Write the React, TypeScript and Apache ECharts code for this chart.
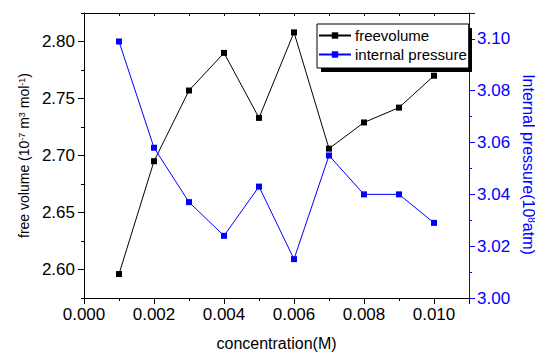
import React, { useEffect, useRef } from "react";
import * as echarts from "echarts";

const concentration = [0.001, 0.002, 0.003, 0.004, 0.005, 0.006, 0.007, 0.008, 0.009, 0.010];
const freeVolume = [2.596, 2.695, 2.757, 2.790, 2.733, 2.808, 2.706, 2.729, 2.742, 2.770];
const internalPressure = [3.099, 3.058, 3.037, 3.024, 3.043, 3.015, 3.055, 3.040, 3.040, 3.029];
const seriesNames = ["freevolume", "internal pressure"];

const FONT = "Liberation Sans, Arial, sans-serif";
const BLUE = "#0000ff";
const BLACK = "#000000";

const isMultiple = (v: number, step: number) => {
  const r = v / step;
  return Math.abs(r - Math.round(r)) < 1e-6;
};

export default function App() {
  const ref = useRef<HTMLDivElement>(null);
  useEffect(() => {
    if (!ref.current) return;
    const chart = echarts.init(ref.current, undefined, { renderer: "svg" });
    const gridMain = { left: 84, top: 13, width: 385, height: 285, containLabel: false, outerBoundsMode: "none" };
    // secondary grid spanning exactly 2.60 .. 2.80 of the left axis, for its major ticks
    const pxPerUnit = 285 / 0.25;
    const gridMajor = {
      left: 84,
      width: 385,
      top: 13 + 0.025 * pxPerUnit,
      height: 0.2 * pxPerUnit,
      containLabel: false,
      outerBoundsMode: "none",
    };
    const legendBox = { left: 317, top: 24, width: 151, height: 44 };
    const option: any = {
      animation: false,
      backgroundColor: "#ffffff",
      textStyle: { fontFamily: FONT },
      grid: [gridMain, gridMajor],
      graphic: [
        {
          type: "rect",
          z: 3,
          silent: true,
          shape: { x: legendBox.left + 4, y: legendBox.top + 4, width: legendBox.width, height: legendBox.height },
          style: { fill: BLACK },
        },
      ],
      legend: {
        data: seriesNames,
        orient: "vertical",
        left: legendBox.left,
        top: legendBox.top,
        z: 4,
        padding: [4, 2, 6, 1],
        itemGap: 4,
        itemWidth: 32,
        itemHeight: 8,
        backgroundColor: "#ffffff",
        borderColor: BLACK,
        borderWidth: 1,
        borderRadius: 0,
        textStyle: { fontFamily: FONT, fontSize: 15, color: BLACK, padding: [0, 0, 0, -1] },
      },
      xAxis: [
        {
          type: "value",
          gridIndex: 0,
          position: "bottom",
          min: 0,
          max: 0.011,
          interval: 0.001,
          name: "concentration(M)",
          nameLocation: "middle",
          nameGap: 37,
          nameTextStyle: { fontFamily: FONT, fontSize: 16, color: BLACK },
          axisLine: { onZero: false, lineStyle: { color: BLACK, width: 1 } },
          axisTick: { show: true, inside: false, length: 3, lineStyle: { color: BLACK } },
          axisLabel: {
            fontFamily: FONT,
            fontSize: 17,
            color: BLACK,
            margin: 8,
            showMaxLabel: false,
            formatter: (v: number) => (isMultiple(v, 0.002) && v < 0.0105 ? v.toFixed(3) : ""),
          },
          splitLine: { show: false },
        },
        {
          type: "value",
          gridIndex: 0,
          position: "bottom",
          min: 0,
          max: 0.011,
          interval: 0.002,
          axisLine: { show: false, onZero: false },
          axisTick: { show: true, inside: false, length: 6, lineStyle: { color: BLACK } },
          axisLabel: { show: false },
          splitLine: { show: false },
        },
        {
          type: "value",
          gridIndex: 0,
          position: "top",
          min: 0,
          max: 0.011,
          interval: 0.001,
          axisLine: { onZero: false, lineStyle: { color: BLACK, width: 1 } },
          axisTick: { show: true, inside: true, length: 3, lineStyle: { color: BLACK } },
          axisLabel: { show: false },
          splitLine: { show: false },
        },
        {
          type: "value",
          gridIndex: 1,
          show: false,
          min: 0,
          max: 0.011,
        },
      ],
      yAxis: [
        {
          type: "value",
          gridIndex: 0,
          position: "left",
          min: 2.575,
          max: 2.825,
          interval: 0.025,
          name: "free volume (10{sup|-7} m{sup|3} mol{sup|-1})",
          nameLocation: "middle",
          nameRotate: 90,
          nameGap: 50,
          nameTextStyle: {
            fontFamily: FONT,
            fontSize: 14,
            color: BLACK,
            rich: { sup: { fontFamily: FONT, fontSize: 9, color: BLACK, verticalAlign: "top", padding: [0, 0, 5, 0] } },
          },
          axisLine: { onZero: false, lineStyle: { color: BLACK, width: 1 } },
          axisTick: { show: true, inside: false, length: 3, lineStyle: { color: BLACK } },
          axisLabel: {
            fontFamily: FONT,
            fontSize: 17,
            color: BLACK,
            margin: 9,
            formatter: (v: number) => (isMultiple(v, 0.05) && v > 2.58 && v < 2.82 ? v.toFixed(2) : ""),
          },
          splitLine: { show: false },
        },
        {
          type: "value",
          gridIndex: 0,
          position: "right",
          min: 3.0,
          max: 3.11,
          interval: 0.01,
          name: "Internal pressure(10{sup|8}atm)",
          nameLocation: "middle",
          nameRotate: -90,
          nameGap: 49,
          nameTextStyle: {
            fontFamily: FONT,
            fontSize: 16,
            color: BLUE,
            padding: [0, 0, 0, 18],
            rich: { sup: { fontFamily: FONT, fontSize: 10, color: BLUE, verticalAlign: "top", padding: [0, 0, 5, 0] } },
          },
          axisLine: { onZero: false, lineStyle: { color: BLUE, width: 1 } },
          axisTick: { show: true, inside: false, length: 3, lineStyle: { color: BLUE } },
          axisLabel: {
            fontFamily: FONT,
            fontSize: 17,
            color: BLUE,
            margin: 8,
            hideOverlap: false,
            formatter: (v: number) => (isMultiple(v, 0.02) && v < 3.105 ? v.toFixed(2) : ""),
          },
          splitLine: { show: false },
        },
        {
          type: "value",
          gridIndex: 0,
          position: "right",
          min: 3.0,
          max: 3.11,
          interval: 0.02,
          axisLine: { show: false, onZero: false },
          axisTick: { show: true, inside: false, length: 6, lineStyle: { color: BLUE } },
          axisLabel: { show: false },
          splitLine: { show: false },
        },
        {
          type: "value",
          gridIndex: 1,
          position: "left",
          min: 2.6,
          max: 2.8,
          interval: 0.05,
          axisLine: { show: false, onZero: false },
          axisTick: { show: true, inside: false, length: 6, lineStyle: { color: BLACK } },
          axisLabel: { show: false },
          splitLine: { show: false },
        },
      ],
      series: [
        {
          name: seriesNames[0],
          type: "line",
          xAxisIndex: 0,
          yAxisIndex: 0,
          data: concentration.map((c, i) => [c, freeVolume[i]]),
          symbol: "rect",
          symbolSize: 6,
          lineStyle: { color: BLACK, width: 1 },
          itemStyle: { color: BLACK },
          z: 2,
        },
        {
          name: seriesNames[1],
          type: "line",
          xAxisIndex: 0,
          yAxisIndex: 1,
          data: concentration.map((c, i) => [c, internalPressure[i]]),
          symbol: "rect",
          symbolSize: 6,
          lineStyle: { color: BLUE, width: 1 },
          itemStyle: { color: BLUE },
          z: 3,
        },
      ],
    };
    chart.setOption(option);
    return () => chart.dispose();
  }, []);
  return (
    <div
      ref={ref}
      style={{ position: "absolute", left: 0, top: 0, width: 535, height: 354 }}
    />
  );
}
